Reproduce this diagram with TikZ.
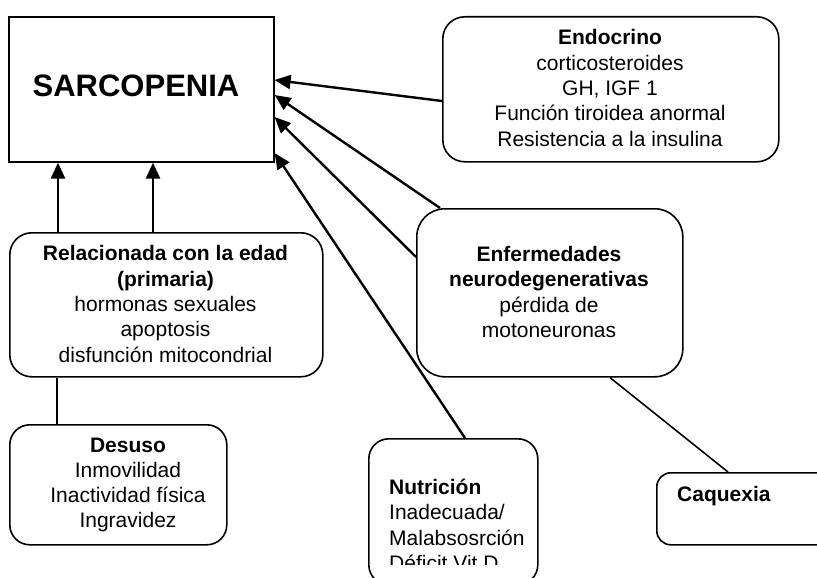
\documentclass[tikz,border=0pt]{standalone}
\usepackage{fontspec}
\setmainfont{Liberation Sans}
\usetikzlibrary{arrows.meta,calc}
\tikzset{
  box/.style={draw=black, line width=1.6pt, rounded corners=22pt, anchor=north west, inner sep=0pt, align=center, font=\fontsize{21}{25}\selectfont},
  sqbox/.style={draw=black, line width=1.6pt, anchor=north west, inner sep=0pt},
  txt/.style={inner sep=0pt, align=center, font=\fontsize{21}{25.3}\selectfont},
  arr/.style={line width=2.4pt, -{Triangle[length=16pt,width=14pt]}},
  link/.style={line width=1.6pt}
}
\begin{document}
\begin{tikzpicture}[x=1pt,y=-1pt]
\useasboundingbox (0,0) rectangle (817,578);
\clip (0,0) rectangle (817,578);
% boxes
\node[sqbox, minimum width=265pt, minimum height=145pt] (sarc) at (8,16) {};
\node[txt, font=\fontsize{31}{36}\selectfont\bfseries] (sarcT) at (136,86) {SARCOPENIA};
\node[box, minimum width=336pt, minimum height=145pt] (endo) at (442,16) {};
\node[txt] (endoT) at (610,88) {\textbf{Endocrino}\\corticosteroides\\GH, IGF 1\\Función tiroidea anormal\\Resistencia a la insulina};
\node[box, minimum width=313pt, minimum height=144pt] (rel) at (9,232) {};
\node[txt] (relT) at (165.5,304) {\textbf{Relacionada con la edad}\\\textbf{(primaria)}\\hormonas sexuales\\apoptosis\\disfunción mitocondrial};
\node[box, rounded corners=20pt, minimum width=217pt, minimum height=120pt] (des) at (9,424) {};
\node[txt] (desT) at (128,485) {\textbf{Desuso}\\Inmovilidad\\Inactividad física\\Ingravidez};
\node[box, rounded corners=28pt, minimum width=266pt, minimum height=168pt] (enf) at (416,208) {};
\node[txt] (enfT) at (549,292) {\textbf{Enfermedades}\\\textbf{neurodegenerativas}\\pérdida de\\motoneuronas};
\node[box, rounded corners=20pt, minimum width=169pt, minimum height=146pt] (nut) at (368,438) {};
\begin{scope}
\clip (360,430) rectangle (545,564);
\node[txt, align=left, anchor=north west] (nutT) at (389,479) {\textbf{Nutrición}\\Inadecuada/\\Malabsosrción\\Déficit Vit D};
\end{scope}
\node[box, rounded corners=14pt, minimum width=190pt, minimum height=72pt] (caq) at (656,472) {};
\node[txt, anchor=west, font=\fontsize{21}{25}\selectfont\bfseries] (caqT) at (677,496) {Caquexia};
% anchor points
\coordinate (r1) at ($(rel.north west)+(49,0)$);
\coordinate (r2) at ($(rel.north west)+(144,0)$);
\coordinate (r3) at ($(rel.south west)+(48,0)$);
% connectors
\draw[arr] ($(endo.north west)+(0,85)$) -- ($(sarc.north east)+(0,64)$);
\draw[arr] ($(enf.north west)+(24,0)$) -- ($(sarc.north east)+(0,79)$);
\draw[arr] ($(enf.north west)+(0,49)$) -- ($(sarc.north east)+(0,101)$);
\draw[arr] ($(nut.north west)+(97,0)$) -- ($(sarc.north east)+(0,137)$);
\draw[arr] (r1) -- (r1 |- sarc.south);
\draw[arr] (r2) -- (r2 |- sarc.south);
\draw[link] (r3) -- (r3 |- des.north);
\draw[link] ($(enf.south west)+(194,0)$) -- ($(caq.north west)+(72,0)$);
\end{tikzpicture}
\end{document}
